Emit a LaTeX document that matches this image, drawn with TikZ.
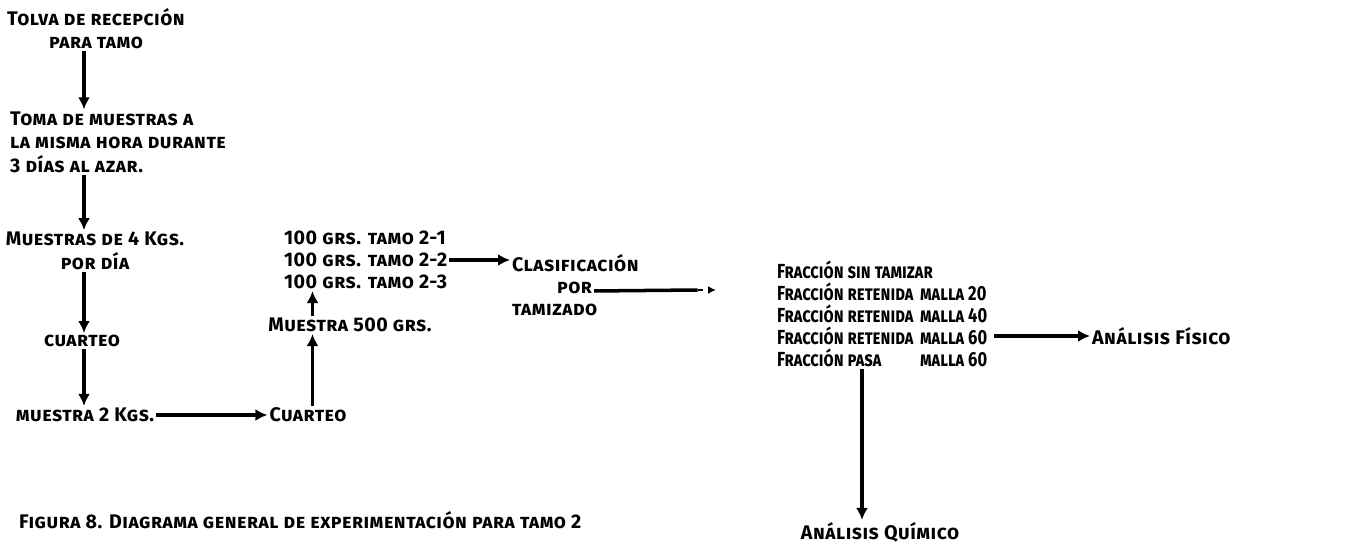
\documentclass[tikz,border=0pt]{standalone}
\usepackage{fontspec}
\setmainfont{Fira Sans}[UprightFont=* Bold, Letters=SmallCaps, LetterSpace=2.5]
\newfontfamily\narrowfont{Fira Sans}[UprightFont=* Bold, Letters=SmallCaps, FakeStretch=0.81]
\usepackage{tikz}
\usetikzlibrary{positioning,arrows.meta}
\tikzset{
  txt/.style={inner sep=1pt, font=\fontsize{11.2}{13.4}\selectfont},
  frac/.style={inner sep=1pt, anchor=west, font=\narrowfont\fontsize{11.6}{13.4}\selectfont},
  flow/.style={-{Latex[length=2.4mm,width=2.4mm]}, line width=2pt},
}
% fraction line with aligned "malla" column
\newcommand\fracline[2]{\makebox[2.86cm][l]{#1}#2}

\begin{document}
\begin{tikzpicture}
  \useasboundingbox (0,0) rectangle (27.14,-11);
  \coordinate (ax) at (1.68,0);

  % Left column
  \node[txt, align=center] (tolva) at (1.92,-0.57) {Tolva de recepción\\para tamo};
  \node[txt, align=left, anchor=west] (toma) at (0.16,-2.84)
       {Toma de muestras a\\la misma hora durante\\3 días al azar.};
  \node[txt, align=center] (m4) at (1.9,-5.02) {Muestras de 4 Kgs.\\por día};
  \node[txt] (cuar1) at (1.64,-6.82) {cuarteo};
  \node[txt] (m2) at (1.7,-8.3) {muestra 2 Kgs.};

  \draw[flow] (tolva.south -| ax) -- (toma.north -| ax);
  \draw[flow] (toma.south -| ax) -- (m4.north -| ax);
  \draw[flow] (m4.south -| ax) -- (cuar1.north -| ax);
  \draw[flow] (cuar1.south -| ax) -- (m2.north -| ax);

  % Second quartering
  \node[txt] (cuar2) at (6.16,-8.3) {Cuarteo};
  \node[txt] (m500) at (7.0,-6.5) {Muestra 500 grs.};
  \node[txt, anchor=west] (g1) at (5.64,-4.76) {100 grs. tamo 2-1};
  \node[txt, anchor=west] (g2) at (5.64,-5.2) {100 grs. tamo 2-2};
  \node[txt, anchor=west] (g3) at (5.64,-5.64) {100 grs. tamo 2-3};
  \coordinate (bx) at (6.25,0);

  \draw[flow] (m2.east) -- (cuar2.west);
  \draw[flow] (cuar2.north -| bx) -- (m500.south -| bx);
  \draw[flow] (m500.north -| bx) -- (g3.south -| bx);

  % Sieving
  \node[txt, anchor=west] (clas) at (10.2,-5.26) {Clasificación};
  \node[txt, anchor=west] (por) at (11.1,-5.76) {por};
  \node[txt, anchor=west] (tam) at (10.2,-6.2) {tamizado};
  \coordinate (dsh) at (13.95,-5.8);
  \coordinate (dend) at (14.32,-5.8);

  \draw[flow] (g2.east) -- (g2.east -| clas.west);
  \draw[line width=2pt] (por.south east) ++(0,0.1) -- (dsh);
  \draw[-{Latex[length=1.6mm,width=1.6mm]}, line width=0.9pt, dashed] (dsh) -- (dend);

  % Fractions
  \node[frac] (f1) at (15.5,-5.4)  {Fracción sin tamizar};
  \node[frac] (f2) at (15.5,-5.84) {\fracline{Fracción retenida}{malla 20}};
  \node[frac] (f3) at (15.5,-6.28) {\fracline{Fracción retenida}{malla 40}};
  \node[frac] (f4) at (15.5,-6.72) {\fracline{Fracción retenida}{malla 60}};
  \node[frac] (f5) at (15.5,-7.16) {\fracline{Fracción pasa}{malla 60}};
  \node[txt, anchor=west] (fis) at (21.8,-6.72) {Análisis Físico};
  \node[txt] (qui) at (17.6,-10.64) {Análisis Químico};
  \coordinate (cx) at (17.24,0);

  \draw[flow] (f4.east) ++(0.1,0) -- (fis.west);
  \draw[flow] (f5.south -| cx) -- (qui.north -| cx);

  % Caption
  \node[txt, anchor=west] (cap) at (0.34,-10.4)
       {Figura 8. Diagrama general de experimentación para tamo 2};
\end{tikzpicture}
\end{document}
